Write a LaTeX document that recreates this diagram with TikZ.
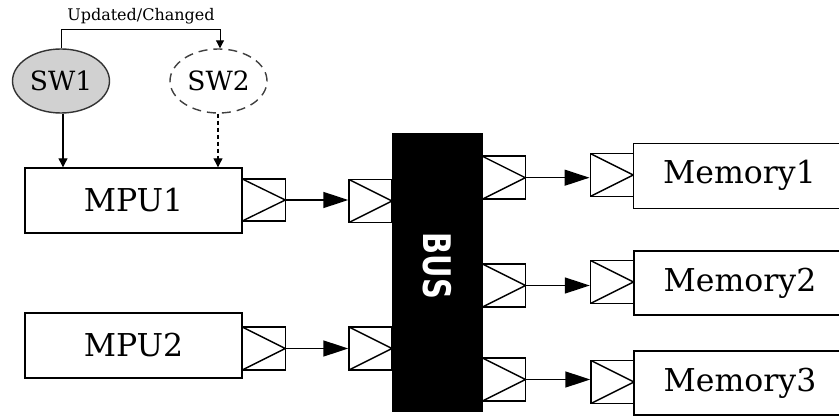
\documentclass[tikz,border=0pt]{standalone}
\usepackage{fontspec}
\setmainfont{DejaVu Serif}
\newfontfamily\busfont{DejaVu Sans}
\usetikzlibrary{shapes.geometric,arrows.meta}
\tikzset{
  box/.style={draw,line width=1.4pt,rectangle,inner sep=0pt,font=\fontsize{31.5}{31.5}\selectfont},
  port/.style={draw,line width=1.4pt,rectangle,inner sep=0pt,minimum width=43pt,minimum height=43pt,
    path picture={\draw[line width=1.4pt] (path picture bounding box.north west) -- (path picture bounding box.east) -- (path picture bounding box.south west);}},
  big/.style={line width=1.4pt,-{Triangle[length=25pt,width=16pt]}},
  small/.style={line width=1.2pt,-{Triangle[length=9pt,width=9pt]}},
  sw/.style={ellipse,line width=1.4pt,inner sep=0pt,minimum width=97pt,minimum height=64pt,font=\fontsize{26.5}{26.5}\selectfont}
}
\begin{document}
\begin{tikzpicture}[x=1pt,y=-1pt]
\useasboundingbox (0,0) rectangle (839,417);
% software
\node[sw,draw=black!80,fill=black!18] (sw1) at (61,81) {SW1};
\node[sw,draw=black!75,dashed,dash pattern=on 9pt off 6pt] (sw2) at (218.5,81) {SW2};
\coordinate (c1) at (61,30);
\coordinate (c2) at (220,30);
\draw[line width=1pt,-{Triangle[length=8pt,width=8pt]}] (sw1.north) -- (c1) -- (c2) -- (sw2.north -| c2);
\node[font=\fontsize{16}{16}\selectfont] (upd) at (141,16) {Updated/Changed};
% MPUs
\node[box,minimum width=217pt,minimum height=65pt] (mpu1) at (133.5,200.5) {MPU1};
\node[box,minimum width=217pt,minimum height=65pt] (mpu2) at (133.5,345.5) {MPU2};
\draw[small] (sw1.south -| 63,0) -- (mpu1.north -| 63,0);
\draw[small,dashed,dash pattern=on 4pt off 3pt] (sw2.south -| 218,0) -- (mpu1.north -| 218,0);
% bus
\node[draw,fill=black,line width=1pt,minimum width=90pt,minimum height=277pt,inner sep=0pt] (bus) at (437,272.5) {};
\node[rotate=-90,text=white,font=\busfont\bfseries\fontsize{38}{38}\selectfont] (bustxt) at (437,266) {\scalebox{0.76}[1]{BUS}};
% ports
\node[port,minimum height=42pt] (p1o) at (263.8,200) {};
\node[port] (p2o) at (263.8,348.5) {};
\node[port] (b1i) at (370.5,201) {};
\node[port] (b2i) at (370.5,348.5) {};
\node[port] (b1o) at (503.8,177.7) {};
\node[port] (b2o) at (504,285.5) {};
\node[port] (b3o) at (504,379.5) {};
\node[port] (m1i) at (611.7,175) {};
\node[port] (m2i) at (612,282) {};
\node[port] (m3i) at (612.5,382) {};
% memories
\node[box,minimum width=212pt,minimum height=65pt] (mem1) at (739.5,175.8) {Memory1};
\node[box,minimum width=212pt,minimum height=64pt] (mem2) at (740,283) {Memory2};
\node[box,minimum width=212pt,minimum height=64pt] (mem3) at (740,383) {Memory3};
% connectors
\draw[big] (p1o.east) -- (p1o.east -| b1i.west);
\draw[big] (p2o.east) -- (p2o.east -| b2i.west);
\draw[big] (b1o.east) -- (b1o.east -| m1i.west);
\draw[big] (b2o.east) -- (b2o.east -| m2i.west);
\draw[big] (b3o.east) -- (b3o.east -| m3i.west);
\end{tikzpicture}
\end{document}
